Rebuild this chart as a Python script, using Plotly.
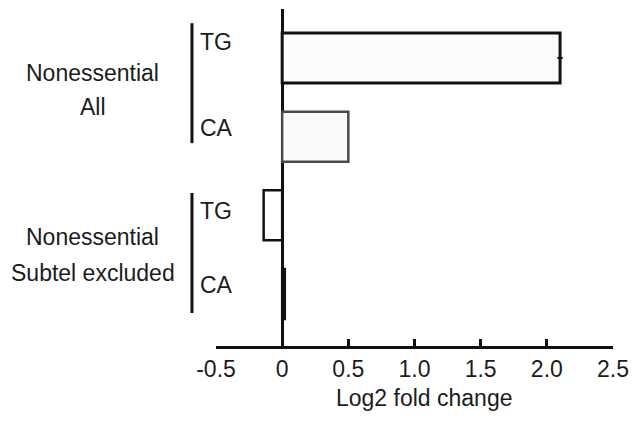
import plotly.graph_objects as go

# Data
conditions = ["TG", "CA", "TG", "CA"]
log2_fc = [2.10, 0.50, -0.14, 0.02]
log2_fc_err = [0.02, 0.0, 0.0, 0.0]
group_names = [["Nonessential", "All"], ["Nonessential", "Subtel excluded"]]
tick_vals = [-0.5, 0, 0.5, 1.0, 1.5, 2.0, 2.5]
tick_text = ["-0.5", "0", "0.5", "1.0", "1.5", "2.0", "2.5"]

FONT = "Liberation Sans, Arial, sans-serif"
TXT = "#1c1c1c"
FS = 23

positions = list(range(len(log2_fc)))

fig = go.Figure()
fig.add_trace(go.Bar(
    x=log2_fc,
    y=positions,
    orientation="h",
    width=0.635,
    marker=dict(
        color=["#fbfbfb", "#fafafa", "#ffffff", "#111111"],
        line=dict(color=["#111111", "#4a4a4a", "#111111", "#111111"],
                  width=[3, 2.5, 2.5, 2.5]),
    ),
    error_x=dict(type="data", array=log2_fc_err, visible=True,
                 color="#111111", thickness=2, width=0),
    showlegend=False,
))

# condition labels next to each bar
label_shift = [16, 9, 4, 9]
annotations = []
for pos, name, dy in zip(positions, conditions, label_shift):
    annotations.append(dict(
        x=-0.046, xref="paper", xanchor="left",
        y=pos, yref="y", yanchor="middle", yshift=dy,
        text=name, showarrow=False,
        font=dict(family=FONT, size=FS, color=TXT),
    ))

# group labels, one line each
group_line_y = [[0.810, 0.709], [0.322, 0.2166]]
for lines, ys in zip(group_names, group_line_y):
    for line, yy in zip(lines, ys):
        annotations.append(dict(
            x=-0.31, xref="paper", xanchor="center",
            y=yy, yref="paper", yanchor="middle",
            text=line, showarrow=False,
            font=dict(family=FONT, size=FS, color=TXT),
        ))

# axis title
annotations.append(dict(
    x=0.525, xref="paper", xanchor="center",
    y=-0.154, yref="paper", yanchor="middle",
    text="Log2 fold change", showarrow=False,
    font=dict(family=FONT, size=FS, color=TXT),
))

# group brackets
bracket_spans = [(0.958, 0.602), (0.454, 0.098)]
shapes = []
for top, bottom in bracket_spans:
    shapes.append(dict(
        type="line", xref="paper", yref="paper",
        x0=-0.0605, x1=-0.0605, y0=bottom, y1=top,
        line=dict(color="#111111", width=3),
    ))

fig.update_layout(
    width=639, height=421,
    margin=dict(l=216, r=26, t=9, b=75),
    paper_bgcolor="white", plot_bgcolor="white",
    annotations=annotations, shapes=shapes,
    xaxis=dict(
        range=[-0.5, 2.5],
        tickvals=tick_vals, ticktext=tick_text,
        ticks="inside", ticklen=7, tickwidth=3, tickcolor="#111111",
        showline=True, linecolor="#111111", linewidth=3,
        zeroline=True, zerolinecolor="#111111", zerolinewidth=3,
        showgrid=False,
        tickfont=dict(family=FONT, size=FS, color=TXT),
    ),
    yaxis=dict(
        range=[3.661, -0.623],
        showticklabels=False, showline=False, zeroline=False,
        showgrid=False, ticks="",
    ),
)

fig.write_html("out.html")
